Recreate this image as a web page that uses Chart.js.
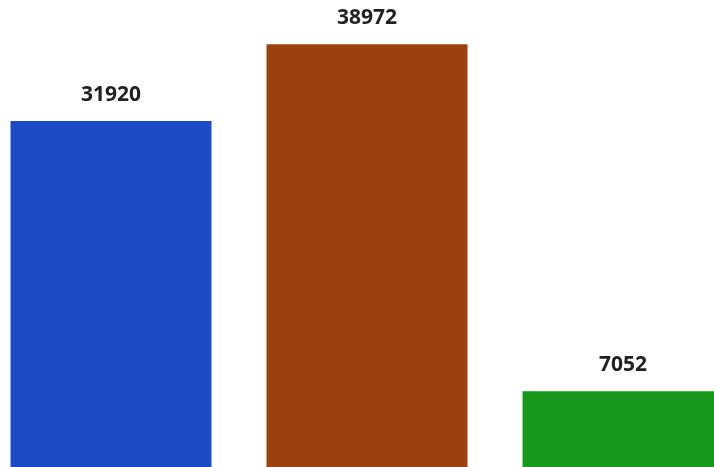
<!DOCTYPE html>
<html>
<head>
<meta charset="utf-8">
<script src="https://cdn.jsdelivr.net/npm/chart.js@4/dist/chart.umd.min.js"></script>
<style>
    html, body { margin: 0; padding: 0; background: #fff; overflow: hidden; width: 714px; height: 467px; }
    #wrap { position: absolute; left: -17px; top: 0; width: 768px; height: 468px; }
</style>
</head>
<body>
<div id="wrap"><canvas id="chart" width="768" height="468"></canvas></div>
<script>
const categories = ['A', 'B', 'C']
const values = [31920, 38972, 7052]
const colors = ['#1a4bc4', '#9d4010', '#17981a']

// value labels above each bar
const barLabels = {
    id: 'barLabels',
    afterDatasetsDraw(chart) {
        const ctx = chart.ctx
        const meta = chart.getDatasetMeta(0)
        ctx.save()
        ctx.font = 'bold 21px "Open Sans"'
        ctx.fillStyle = '#222'
        ctx.textAlign = 'center'
        ctx.textBaseline = 'middle'
        meta.data.forEach((bar, i) => {
            ctx.fillText(values[i], bar.x, bar.y - 26)
        })
        ctx.restore()
    }
}

new Chart(document.getElementById('chart'), {
    type: 'bar',
    data: {
        labels: categories,
        datasets: [{
            data: values,
            backgroundColor: colors,
            borderWidth: 0,
            barPercentage: 0.785,
            categoryPercentage: 1
        }]
    },
    options: {
        responsive: false,
        animation: false,
        layout: { padding: 0 },
        plugins: { legend: { display: false }, tooltip: { enabled: false } },
        scales: {
            x: { display: false },
            y: { display: false, min: 0, max: 43050 }
        }
    },
    plugins: [barLabels]
})
</script>
</body>
</html>
